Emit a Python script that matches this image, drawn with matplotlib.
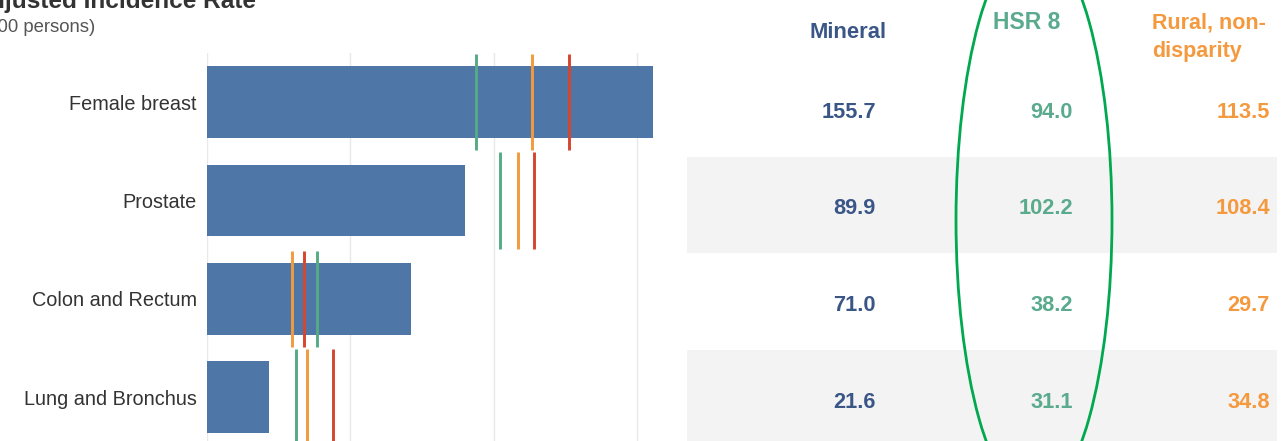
import matplotlib
matplotlib.use("Agg")
import matplotlib.pyplot as plt
from matplotlib.patches import Ellipse, Rectangle

# ---------------- data ----------------
categories = ["Female breast", "Prostate", "Colon and Rectum", "Lung and Bronchus"]
mineral = [155.7, 89.9, 71.0, 21.6]
hsr8 = [94.0, 102.2, 38.2, 31.1]
rural_nondisp = [113.5, 108.4, 29.7, 34.8]
comparison_red = [126.4, 114.2, 33.9, 43.8]
grid_ticks = [0, 50, 100, 150]
col_headers = ["Mineral", "HSR 8", "Rural, non-", "disparity"]
title = "Age-Adjusted Incidence Rate"
subtitle = "(per 100,000 persons)"

# ---------------- style ----------------
plt.rcParams['font.family'] = ['Liberation Sans', 'DejaVu Sans']
BAR = "#4e76a6"
GREEN_L = "#55ab84"
ORANGE_L = "#f39a3c"
RED_L = "#d6452e"
MIN_TXT = "#3a5687"
HSR_TXT = "#5aaa8e"
RUR_TXT = "#f5993f"
ELL = "#00a84f"

W, H = 1288, 441
fig = plt.figure(figsize=(W / 100, H / 100), dpi=100)

# overlay axes in pixel coordinates
ov = fig.add_axes([0, 0, 1, 1])
ov.set_xlim(0, W)
ov.set_ylim(H, 0)
ov.axis('off')

# chart axes
px_per_unit = 2.867
x0, x1, ytop, row_h = 207, 687, 53, 98.3
ax = fig.add_axes([x0 / W, 0, (x1 - x0) / W, (H - ytop) / H])
ax.set_facecolor('none')
n = len(categories)
ax.set_xlim(0, (x1 - x0) / px_per_unit)
ax.set_ylim(-0.5 + (H - ytop) / row_h, -0.5)

ypos = list(range(n))
ax.barh(ypos, mineral, height=0.73, color=BAR, zorder=2)
for i in range(n):
    ax.vlines(hsr8[i], i - 0.49, i + 0.49, color=GREEN_L, lw=2.1, zorder=3)
    ax.vlines(rural_nondisp[i], i - 0.49, i + 0.49, color=ORANGE_L, lw=2.1, zorder=3)
    ax.vlines(comparison_red[i], i - 0.49, i + 0.49, color=RED_L, lw=2.1, zorder=3)

ax.set_xticks(grid_ticks)
ax.set_xticklabels([])
ax.grid(axis='x', color='#e8e8e8', lw=1)
ax.grid(axis='y', visible=False)
ax.set_axisbelow(True)
ax.set_yticks(ypos)
ax.set_yticklabels(categories, fontsize=14.3, color='#333333')
ax.tick_params(axis='both', length=0)
ax.tick_params(axis='y', pad=7.5)
for s in ax.spines.values():
    s.set_visible(False)

# title (cut off at the left edge, as in the reference)
ov.text(256, 8, title, ha='right', va='baseline', fontsize=17.6, weight='bold', color='#333333')
ov.text(95, 32, subtitle, ha='right', va='baseline', fontsize=13.3, color='#555555')

# table
t_top, t_row = 60, 96.7
for i in range(n):
    if i % 2 == 1:
        ov.add_patch(Rectangle((687, t_top + t_row * i), 590, t_row, color='#f3f3f3', lw=0, zorder=0))

ov.text(848, 38, col_headers[0], ha='center', va='baseline', fontsize=15.8, weight='bold', color=MIN_TXT)
ov.text(993, 29, col_headers[1], ha='left', va='baseline', fontsize=16.5, weight='bold', color=HSR_TXT)
ov.text(1152, 29, col_headers[2], ha='left', va='baseline', fontsize=15.5, weight='bold', color=RUR_TXT)
ov.text(1152, 57, col_headers[3], ha='left', va='baseline', fontsize=15.5, weight='bold', color=RUR_TXT)

for i in range(n):
    yb = 117.5 + t_row * i
    ov.text(876, yb, f"{mineral[i]:.1f}", ha='right', va='baseline', fontsize=15.7, weight='bold', color=MIN_TXT, zorder=2)
    ov.text(1073, yb, f"{hsr8[i]:.1f}", ha='right', va='baseline', fontsize=15.7, weight='bold', color=HSR_TXT, zorder=2)
    ov.text(1270, yb, f"{rural_nondisp[i]:.1f}", ha='right', va='baseline', fontsize=15.7, weight='bold', color=RUR_TXT, zorder=2)

ov.add_patch(Ellipse((1034, 220), 156, 560, fill=False, ec=ELL, lw=2, zorder=10))

fig.savefig('out.png', dpi=100)
